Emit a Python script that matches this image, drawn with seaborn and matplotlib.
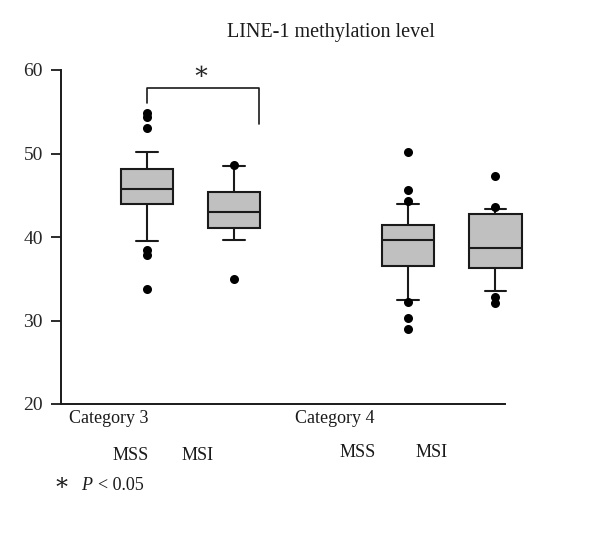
import matplotlib
matplotlib.use("Agg")
import matplotlib.pyplot as plt
import numpy as np
import pandas as pd
import seaborn as sns

# ===== 数据 =====
groups = ["Category 3 MSS", "Category 3 MSI", "Category 4 MSS", "Category 4 MSI"]
# 每组: 下须, Q1, 中位数, Q3, 上须
box_c3_mss = [39.5, 43.9, 45.8, 48.1, 50.2]
box_c3_msi = [39.6, 41.1, 43.0, 45.4, 48.5]
box_c4_mss = [32.5, 36.5, 39.7, 41.4, 44.0]
box_c4_msi = [33.5, 36.3, 38.7, 42.8, 43.4]
# 离群点
out_c3_mss = [54.8, 54.4, 53.1, 38.4, 37.9, 33.8]
out_c3_msi = [48.6, 35.0]
out_c4_mss = [50.2, 45.6, 44.3, 32.2, 30.3, 29.0]
out_c4_msi = [47.3, 43.6, 32.8, 32.1]

# 显著性括号 (左腿底, 顶, 右腿底)
bracket_vals = [56.0, 57.9, 53.5]

title = "LINE-1 methylation level"
y_ticks = [20, 30, 40, 50, 60]

box_df = pd.DataFrame({
    "group": np.repeat(groups, 5),
    "value": box_c3_mss + box_c3_msi + box_c4_mss + box_c4_msi,
})
outs = [out_c3_mss, out_c3_msi, out_c4_mss, out_c4_msi]
out_df = pd.DataFrame({
    "group": [g for g, o in zip(groups, outs) for _ in o],
    "value": [v for o in outs for v in o],
})
order = [groups[0], groups[1], "", groups[2], groups[3]]

# ===== 绘图 =====
sns.set_style("white")
plt.rcParams['font.family'] = ['Liberation Serif', 'DejaVu Serif']

fig = plt.figure(figsize=(6.0, 5.37), dpi=100)
ax = fig.add_axes([61 / 600, 1 - 404 / 537, 444 / 600, 334 / 537])

sns.boxplot(data=box_df, x="group", y="value", order=order, whis=(0, 100),
            width=0.6, color="#c0c0c0", saturation=1, linecolor="#1a1a1a",
            linewidth=1.5, fliersize=0, capwidths=0.25, ax=ax)
sns.stripplot(data=out_df, x="group", y="value", order=order, jitter=False,
              color="black", size=6.5, ax=ax, zorder=5)

ax.plot([0, 0, 1.28, 1.28], [bracket_vals[0], bracket_vals[1], bracket_vals[1], bracket_vals[2]],
        color="#1a1a1a", lw=1.2)
ax.text(0.62, 59.7, "∗", ha="center", va="center", fontsize=18)

ax.set_xlim(-0.99, 4.11)
ax.set_ylim(20, 60)
ax.set_yticks(y_ticks)
ax.set_xticks([])
ax.set_xlabel("")
ax.set_ylabel("")
# 最后一个箱子超出坐标轴右端，不裁剪
for art in ax.patches + ax.lines + ax.collections:
    art.set_clip_on(False)
for s in ["top", "right"]:
    ax.spines[s].set_visible(False)
for s in ["left", "bottom"]:
    ax.spines[s].set_color("#1a1a1a")
    ax.spines[s].set_linewidth(1.4)
ax.tick_params(axis="y", direction="out", length=7, width=1.3, color="#1a1a1a",
               labelsize=14, pad=6, left=True)

def ftext(x, y, s, size=13, **kw):
    fig.text(x / 600, 1 - y / 537, s, va="baseline", fontsize=size, color="#1a1a1a", **kw)

fig.text(331 / 600, 1 - 36.5 / 537, title, ha="center", va="baseline", fontsize=14.5, color="#1a1a1a")
ftext(69, 423, "Category 3")
ftext(113, 460, "MSS")
ftext(182, 460, "MSI")
ftext(295, 423, "Category 4")
ftext(340, 457, "MSS")
ftext(416, 457, "MSI")
ftext(53, 489, "∗", size=17)
ftext(81, 490, "P", style="italic")
ftext(98, 490, "< 0.05")

fig.savefig("out.png", dpi=100)
